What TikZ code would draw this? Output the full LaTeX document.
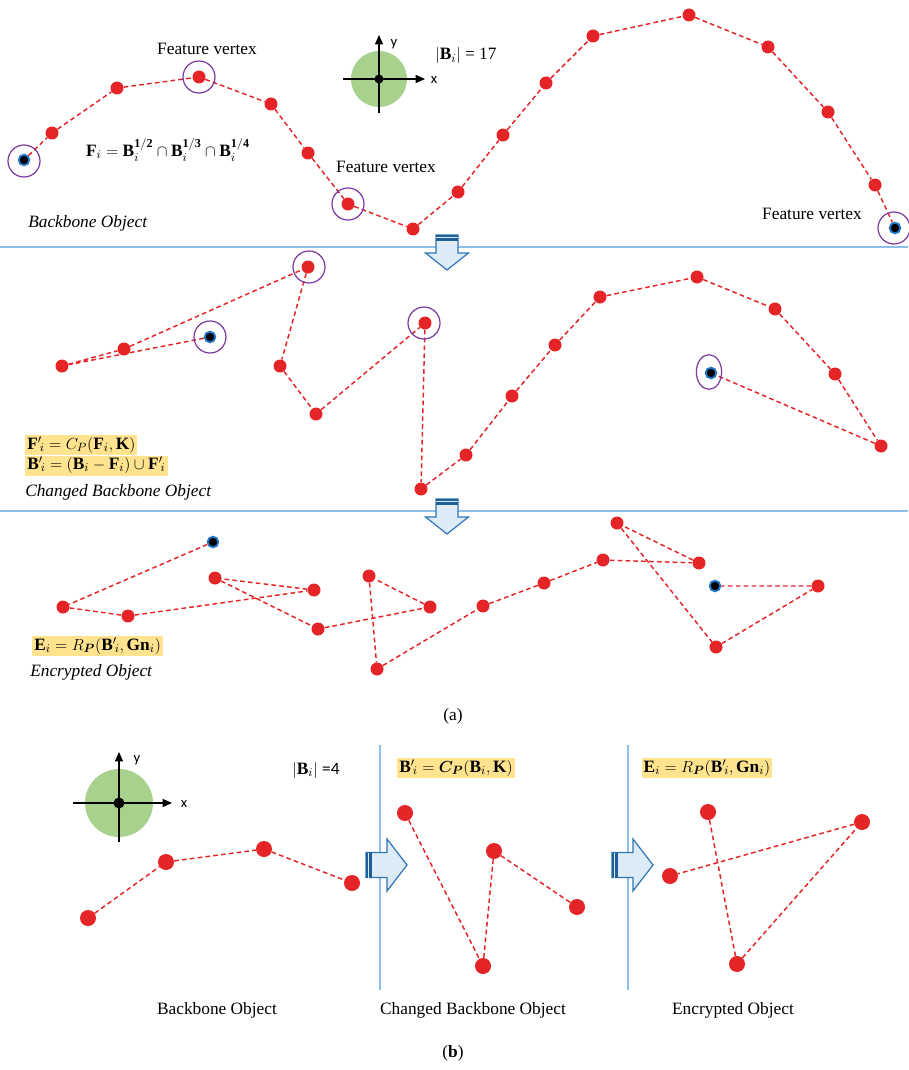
\documentclass[tikz,border=0pt]{standalone}
\usepackage{bm}
\usepackage{fontspec}
\setmainfont{Liberation Serif}
\newfontfamily\calibri{Carlito}
\usetikzlibrary{arrows.meta,shapes.geometric}
\definecolor{dotred}{HTML}{E52428}
\definecolor{fpurple}{HTML}{7B3A9E}
\definecolor{ringblue}{HTML}{1F77C8}
\definecolor{sepblue}{HTML}{8DC0E8}
\definecolor{discgreen}{HTML}{A9D18E}
\definecolor{hl}{HTML}{FFE38F}
\definecolor{arrfill}{HTML}{DDEBF7}
\definecolor{arrline}{HTML}{2E75B6}
\definecolor{arrdark}{HTML}{1F5F99}
\begin{document}
\begin{tikzpicture}[x=0.75pt,y=-0.75pt,
  rdot/.style={circle,fill=dotred,inner sep=0pt,minimum size=9.75pt},
  bigdot/.style={circle,fill=dotred,inner sep=0pt,minimum size=12pt},
  kdot/.style={circle,fill=black,draw=ringblue,line width=1.4pt,inner sep=0pt,minimum size=8pt},
  fcirc/.style={circle,draw=fpurple,line width=0.9pt,inner sep=0pt,minimum size=24pt},
  fell/.style={ellipse,draw=fpurple,line width=0.9pt,inner sep=0pt,minimum width=19pt,minimum height=26pt},
  link/.style={draw=dotred,line width=1.1pt,dash pattern=on 3.5pt off 2.4pt},
  sepline/.style={draw=sepblue,line width=0.8pt},
  lab/.style={font=\fontsize{13}{15}\selectfont,inner sep=0pt},
  ilab/.style={font=\fontsize{13}{15}\selectfont\itshape,inner sep=0pt,anchor=west},
  fml/.style={font=\fontsize{13}{15}\selectfont,inner sep=0pt},
  hlbox/.style={fill=hl,font=\fontsize{13}{15}\selectfont,inner xsep=1.5pt,inner ysep=1pt,text height=9.5pt,text depth=3.5pt},
  axlab/.style={font=\calibri\fontsize{11}{13}\selectfont,inner sep=0pt},
  axarrow/.style={line width=0.8pt,-{Triangle[length=7pt,width=6pt]}},
  darrow/.style={fill=arrfill,draw=arrline,line width=0.9pt,line join=miter}
]
\useasboundingbox (0,0) rectangle (908,1070);

% ---------------- (a) top : Backbone object ----------------
\node[kdot] (t1) at (24,160) {};
\node[rdot] (t2) at (52,133) {};
\node[rdot] (t3) at (117,88) {};
\node[rdot] (t4) at (199,77) {};
\node[rdot] (t5) at (271,104) {};
\node[rdot] (t6) at (308,153) {};
\node[rdot] (t7) at (348,204) {};
\node[rdot] (t8) at (413,229) {};
\node[rdot] (t9) at (458,192) {};
\node[rdot] (t10) at (503,135) {};
\node[rdot] (t11) at (546,83) {};
\node[rdot] (t12) at (593,36) {};
\node[rdot] (t13) at (689,15) {};
\node[rdot] (t14) at (768,47) {};
\node[rdot] (t15) at (828,112) {};
\node[rdot] (t16) at (875,185) {};
\node[kdot] (t17) at (895,228) {};
\draw[link] (t1) -- (t2) -- (t3) -- (t4) -- (t5) -- (t6) -- (t7) -- (t8) -- (t9)
  -- (t10) -- (t11) -- (t12) -- (t13) -- (t14) -- (t15) -- (t16) -- (t17);
\node[fcirc] (ft1) at (24,161) {};
\node[fcirc] (ft4) at (199,77) {};
\node[fcirc] (ft7) at (348,204) {};
\node[fcirc] (ft17) at (894,228) {};

\node[lab] (fv1) at (207,49) {Feature vertex};
\node[lab] (fv2) at (386,167) {Feature vertex};
\node[lab] (fv3) at (812,214) {Feature vertex};
\node[fml] (ff) at (168,150) {$\mathbf{F}_i=\mathbf{B}_i^{\mathbf{1/2}}\cap\mathbf{B}_i^{\mathbf{1/3}}\cap\mathbf{B}_i^{\mathbf{1/4}}$};
\node[ilab] (bo1) at (28,223) {Backbone Object};

% axis top
\fill[discgreen] (379,79) circle (28);
\draw[axarrow] (343,79) -- (425,79);
\draw[axarrow] (379,113) -- (379,35);
\fill[black] (379,79) circle (4.5);
\node[axlab] (ay1) at (394,44) {y};
\node[axlab] (ax1) at (434,80) {x};
\node[fml] (card1) at (466,56) {$|\mathbf{B}_i|$ = 17};

% separators
\draw[sepline] (0,247) -- (908,247);
\draw[sepline] (0,511) -- (908,511);

% down arrows
\foreach \yy in {270,534}{
  \begin{scope}[shift={(447,\yy)}]
    \path[darrow] (-11,-35) -- (11,-35) -- (11,-17) -- (21.5,-17) -- (0,0) -- (-21.5,-17) -- (-11,-17) -- cycle;
    \fill[arrdark] (-11,-35) rectangle (11,-29.5);
    \draw[arrfill,line width=0.8pt] (-11,-32.2) -- (11,-32.2);
  \end{scope}
}

% ---------------- (a) middle : Changed backbone ----------------
\node[kdot] (m1) at (210,337) {};
\node[rdot] (m2) at (62,366) {};
\node[rdot] (m3) at (124,349) {};
\node[rdot] (m4) at (308,267) {};
\node[rdot] (m5) at (280,366) {};
\node[rdot] (m6) at (316,414) {};
\node[rdot] (m7) at (425,323) {};
\node[rdot] (m8) at (421,489) {};
\node[rdot] (m9) at (466,455) {};
\node[rdot] (m10) at (512,396) {};
\node[rdot] (m11) at (555,345) {};
\node[rdot] (m12) at (600,297) {};
\node[rdot] (m13) at (697,277) {};
\node[rdot] (m14) at (775,309) {};
\node[rdot] (m15) at (835,374) {};
\node[rdot] (m16) at (881,446) {};
\node[kdot] (m17) at (711,373) {};
\draw[link] (m1) -- (m2) -- (m3) -- (m4) -- (m5) -- (m6) -- (m7) -- (m8) -- (m9)
  -- (m10) -- (m11) -- (m12) -- (m13) -- (m14) -- (m15) -- (m16) -- (m17);
\node[fcirc] (fm1) at (210,337) {};
\node[fcirc] (fm4) at (309,267) {};
\node[fcirc] (fm7) at (424,323) {};
\node[fell] (fm17) at (709,372) {};

\node[hlbox,anchor=west] (fp) at (25,445) {${\mathbf{F}'}_{\!i} = C_{P}(\mathbf{F}_i,\mathbf{K})$};
\node[hlbox,anchor=north west] (bp) at (fp.south west) {${\mathbf{B}'}_{\!i} = (\mathbf{B}_i-\mathbf{F}_i)\cup{\mathbf{F}'}_{\!i}$};
\node[ilab] (cbo) at (25,492) {Changed Backbone Object};

% ---------------- (a) bottom : Encrypted ----------------
\node[kdot] (e1) at (213,542) {};
\node[rdot] (e2) at (63,607) {};
\node[rdot] (e3) at (128,616) {};
\node[rdot] (e4) at (314,590) {};
\node[rdot] (e5) at (215,578) {};
\node[rdot] (e6) at (318,629) {};
\node[rdot] (e7) at (430,607) {};
\node[rdot] (e8) at (369,576) {};
\node[rdot] (e9) at (377,669) {};
\node[rdot] (e10) at (483,606) {};
\node[rdot] (e11) at (544,583) {};
\node[rdot] (e12) at (603,560) {};
\node[rdot] (e13) at (699,563) {};
\node[rdot] (e14) at (617,523) {};
\node[rdot] (e15) at (716,647) {};
\node[rdot] (e16) at (818,586) {};
\node[kdot] (e17) at (715,586) {};
\draw[link] (e1) -- (e2) -- (e3) -- (e4) -- (e5) -- (e6) -- (e7) -- (e8) -- (e9)
  -- (e10) -- (e11) -- (e12) -- (e13) -- (e14) -- (e15) -- (e16) -- (e17);

\node[hlbox,anchor=west] (ef) at (32,646) {$\mathbf{E}_i = R_{\bm{P}}({\mathbf{B}'}_{\!i},\mathbf{Gn}_i)$};
\node[ilab] (eo) at (30,672) {Encrypted Object};

\node[lab] (capa) at (453,716) {(a)};

% ---------------- (b) ----------------
\fill[discgreen] (119,803) circle (34);
\draw[axarrow] (73,803) -- (172,803);
\draw[axarrow] (119,842) -- (119,752);
\fill[black] (119,803) circle (5.5);
\node[axlab] (ay2) at (137,760) {y};
\node[axlab] (ax2) at (184,804) {x};
\node[fml] (card2) at (316,770) {$|\mathbf{B}_i|$ {\calibri =4}};

\draw[sepline] (380,745) -- (380,990);
\draw[sepline] (628,745) -- (628,990);

\node[hlbox] (bf2) at (456,768) {${\mathbf{B}'}_{\!i} = \bm{C}_{\bm{P}}(\mathbf{B}_i,\mathbf{K})$};
\node[hlbox] (ef2) at (707,768) {$\mathbf{E}_i = R_{\bm{P}}({\mathbf{B}'}_{\!i},\mathbf{Gn}_i)$};

\node[bigdot] (b1) at (88,918) {};
\node[bigdot] (b2) at (166,862) {};
\node[bigdot] (b3) at (264,849) {};
\node[bigdot] (b4) at (352,883) {};
\draw[link] (b1) -- (b2) -- (b3) -- (b4);

\node[bigdot] (c1) at (405,813) {};
\node[bigdot] (c2) at (483,966) {};
\node[bigdot] (c3) at (494,851) {};
\node[bigdot] (c4) at (577,907) {};
\draw[link] (c1) -- (c2) -- (c3) -- (c4);

\node[bigdot] (d1) at (708,812) {};
\node[bigdot] (d2) at (737,964) {};
\node[bigdot] (d3) at (862,822) {};
\node[bigdot] (d4) at (670,876) {};
\draw[link] (d1) -- (d2) -- (d3) -- (d4);

% right arrows
\foreach \xx in {407,653}{
  \begin{scope}[shift={(\xx,865)}]
    \path[darrow] (-41,-12.5) -- (-20,-12.5) -- (-20,-26) -- (0,0) -- (-20,26) -- (-20,12.5) -- (-41,12.5) -- cycle;
    \fill[arrdark] (-41,-12.5) rectangle (-35.5,12.5);
    \draw[arrfill,line width=0.8pt] (-38.2,-12.5) -- (-38.2,12.5);
  \end{scope}
}

\node[lab] (l1) at (217,1010) {Backbone Object};
\node[lab] (l2) at (473,1010) {Changed Backbone Object};
\node[lab] (l3) at (733,1010) {Encrypted Object};
\node[lab] (capb) at (453,1053) {(\textbf{b})};
\end{tikzpicture}
\end{document}
